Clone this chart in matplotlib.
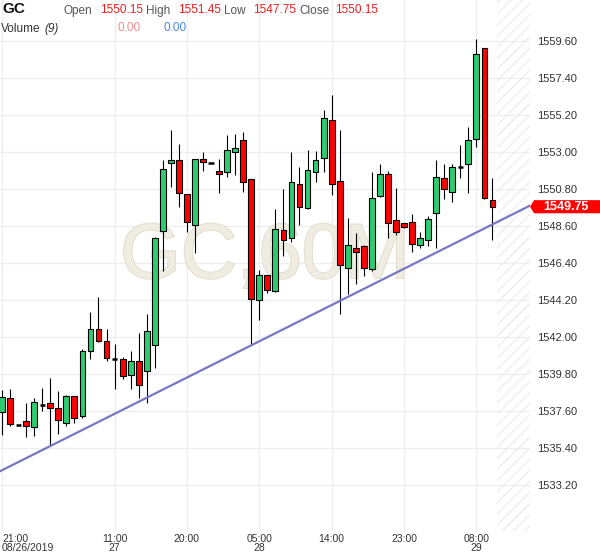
import matplotlib
matplotlib.use('Agg')
import matplotlib.pyplot as plt
import matplotlib.transforms as mtransforms
import matplotlib.patheffects as pe
from matplotlib.patches import Polygon, Rectangle

plt.rcParams['font.family'] = ['Liberation Sans', 'DejaVu Sans']
plt.rcParams['hatch.color'] = '#ebebeb'
plt.rcParams['hatch.linewidth'] = 0.8

#60 minute candles
opens = [1537.52, 1538.36, 1536.77, 1536.99, 1536.63, 1537.96, 1538.06, 1537.76, 1536.91, 1538.48,
         1537.32, 1541.17, 1542.46, 1541.75, 1540.69, 1540.68, 1539.72, 1540.58, 1539.96, 1541.51,
         1548.29, 1552.33, 1552.51, 1550.50, 1548.64, 1552.57, 1552.36, 1551.87, 1551.79, 1552.98,
         1553.70, 1551.38, 1544.18, 1545.69, 1544.75, 1548.35, 1547.87, 1551.08, 1549.65, 1551.83,
         1552.66, 1554.89, 1551.28, 1546.09, 1547.28, 1547.41, 1546.03, 1550.40, 1551.67, 1548.94,
         1548.76, 1548.82, 1547.45, 1547.75, 1549.36, 1551.44, 1550.64, 1552.13, 1552.27, 1553.76,
         1559.17, 1550.15]
highs = [1538.85, 1538.89, 1536.80, 1538.06, 1538.36, 1538.95, 1539.55, 1538.81, 1538.55, 1538.50,
         1541.27, 1543.51, 1544.36, 1542.46, 1541.57, 1540.83, 1541.17, 1542.26, 1543.37, 1547.95,
         1552.53, 1554.31, 1553.46, 1550.52, 1552.60, 1552.98, 1552.38, 1552.57, 1554.01, 1554.05,
         1554.17, 1551.40, 1545.99, 1545.70, 1549.59, 1550.78, 1553.00, 1552.13, 1553.12, 1553.08,
         1555.50, 1556.39, 1554.31, 1549.06, 1548.17, 1547.45, 1551.79, 1552.27, 1551.89, 1550.84,
         1548.80, 1549.30, 1548.26, 1549.20, 1552.51, 1552.27, 1552.27, 1553.42, 1554.47, 1559.70,
         1559.20, 1551.45]
lows = [1536.18, 1536.71, 1536.75, 1536.04, 1536.13, 1537.62, 1535.52, 1536.22, 1536.73, 1536.91,
        1537.20, 1540.71, 1541.70, 1540.58, 1538.93, 1539.52, 1538.93, 1538.36, 1538.06, 1540.14,
        1545.94, 1550.94, 1549.75, 1548.26, 1546.98, 1551.89, 1552.34, 1550.55, 1551.53, 1551.63,
        1550.64, 1541.51, 1543.01, 1544.64, 1544.70, 1546.84, 1547.67, 1548.64, 1549.60, 1551.20,
        1551.79, 1550.44, 1543.35, 1544.56, 1545.15, 1545.65, 1545.95, 1550.35, 1547.87, 1548.05,
        1548.50, 1547.04, 1547.28, 1547.39, 1547.28, 1550.19, 1550.05, 1551.47, 1550.55, 1553.28,
        1550.20, 1547.75]
closes = [1538.45, 1536.81, 1536.77, 1536.73, 1538.12, 1537.96, 1537.76, 1537.05, 1538.48, 1537.17,
          1541.17, 1542.46, 1541.75, 1540.74, 1540.69, 1539.67, 1540.56, 1539.13, 1542.34, 1547.87,
          1551.97, 1552.51, 1550.55, 1548.86, 1552.57, 1552.39, 1552.36, 1551.67, 1553.10, 1553.24,
          1551.23, 1544.24, 1545.69, 1544.81, 1548.42, 1547.75, 1551.20, 1549.75, 1551.93, 1552.53,
          1555.00, 1551.08, 1546.26, 1547.47, 1547.04, 1546.12, 1550.25, 1551.67, 1548.76, 1548.23,
          1548.54, 1547.53, 1547.87, 1549.00, 1551.53, 1550.78, 1552.11, 1552.13, 1553.71, 1558.83,
          1550.25, 1549.75]

#axis labels
price_ticks = [1533.20, 1535.40, 1537.60, 1539.80, 1542.00, 1544.20, 1546.40,
               1548.60, 1550.80, 1553.00, 1555.20, 1557.40, 1559.60]
time_tick_pos = [0, 14, 23, 32, 41, 50, 59]
time_tick_labels = ['21:00\n08/26/2019', '11:00\n27', '20:00', '05:00\n28',
                    '14:00', '23:00', '08:00\n29']

#trend line drawn through two lows
trend_a = 6
trend_b = 31

#header values
header_vals = ['1550.15', '1551.45', '1547.75', '1550.15']
last_price = closes[-1]

GREEN = '#2ecc71'
RED = '#ff0000'

W, H = 600, 558
fig = plt.figure(figsize=(W / 100, H / 100), dpi=100)
ax = fig.add_axes([0, 27 / H, 530 / W, 531 / H])
ax.set_xlim(-0.25, 65.67)
ax.set_ylim(1530.47, 1562.04)

#grid
ax.set_yticks(price_ticks)
ax.set_yticklabels(['%.2f' % p for p in price_ticks])
ax.set_xticks(time_tick_pos)
ax.set_xticklabels(time_tick_labels)
ax.grid(True, color='#eeeeee', lw=1.0, zorder=0)
ax.set_axisbelow(True)
for s in ax.spines.values():
    s.set_visible(False)
ax.yaxis.tick_right()
ax.tick_params(axis='y', length=0, pad=5, labelsize=8, labelcolor='#333333')
ax.tick_params(axis='x', length=0, pad=2, labelsize=7.5, labelcolor='#333333')
for i, lbl in enumerate(ax.get_xticklabels()):
    lbl.set_linespacing(0.95)
    if i == 0:
        lbl.set_ha('left')
        lbl.set_multialignment('left')

#watermark
ax.text(0.5, 0.515, 'GC,60M', transform=ax.transAxes, ha='center', va='center',
        fontsize=56, color='#efece2', zorder=1,
        path_effects=[pe.withStroke(linewidth=1.5, foreground='#e3dfcf')])

#hatched future area
ax.add_patch(Rectangle((61.57, 1530.47), 5, 32, facecolor='none', edgecolor='#ebebeb',
                       hatch='///', lw=0, zorder=1))

#candles
x = list(range(len(opens)))
ax.vlines(x, lows, highs, color='black', lw=0.8, zorder=2)
for i in x:
    o, c = opens[i], closes[i]
    if o == c:
        ax.hlines(o, i - 0.32, i + 0.32, color='black', lw=1.8, zorder=3)
        continue
    col = GREEN if c > o else RED
    ax.bar(i, abs(c - o), bottom=min(o, c), width=0.72, color=col,
           edgecolor='black', linewidth=0.8, zorder=3)

#trend line
ax.axline((trend_a, lows[trend_a]), (trend_b, lows[trend_b]), color='#7777c4', lw=1.6, zorder=4)

#last price tag
tr = mtransforms.blended_transform_factory(fig.transFigure, ax.transData)
hh = 0.39
tag = Polygon([(530 / W, last_price), (534 / W, last_price + hh), (1.0, last_price + hh),
               (1.0, last_price - hh), (534 / W, last_price - hh)],
              closed=True, transform=tr, facecolor='#ff0000', edgecolor='none',
              clip_on=False)
fig.patches.append(tag)
fig.text(566 / W, last_price, '%.2f' % last_price, transform=tr, ha='center', va='center',
         color='white', fontsize=9, fontweight='bold')

#header
def ftext(px, py, s, **kw):
    fig.text(px / W, 1 - py / H, s, va='center', ha='left', **kw)

ftext(2, 9, 'GC', fontsize=11, fontweight='bold', color='#111111')
ftext(63, 11, 'Open', fontsize=8.5, color='#555555')
ftext(100, 10, header_vals[0], fontsize=8.5, color='#ee1c1c')
ftext(146, 11, 'High', fontsize=8.5, color='#555555')
ftext(178, 10, header_vals[1], fontsize=8.5, color='#ee1c1c')
ftext(224, 11, 'Low', fontsize=8.5, color='#555555')
ftext(253, 10, header_vals[2], fontsize=8.5, color='#ee1c1c')
ftext(299, 11, 'Close', fontsize=8.5, color='#555555')
ftext(335, 10, header_vals[3], fontsize=8.5, color='#ee1c1c')
ftext(1, 29, 'Volume', fontsize=8.5, color='#333333')
ftext(44, 29, '(9)', fontsize=8.5, color='#333333', fontstyle='italic')
ftext(118, 28, '0.00', fontsize=8.5, color='#f08c8c')
ftext(163, 28, '0.00', fontsize=8.5, color='#4a86e8')

fig.savefig('out.png', dpi=100)
